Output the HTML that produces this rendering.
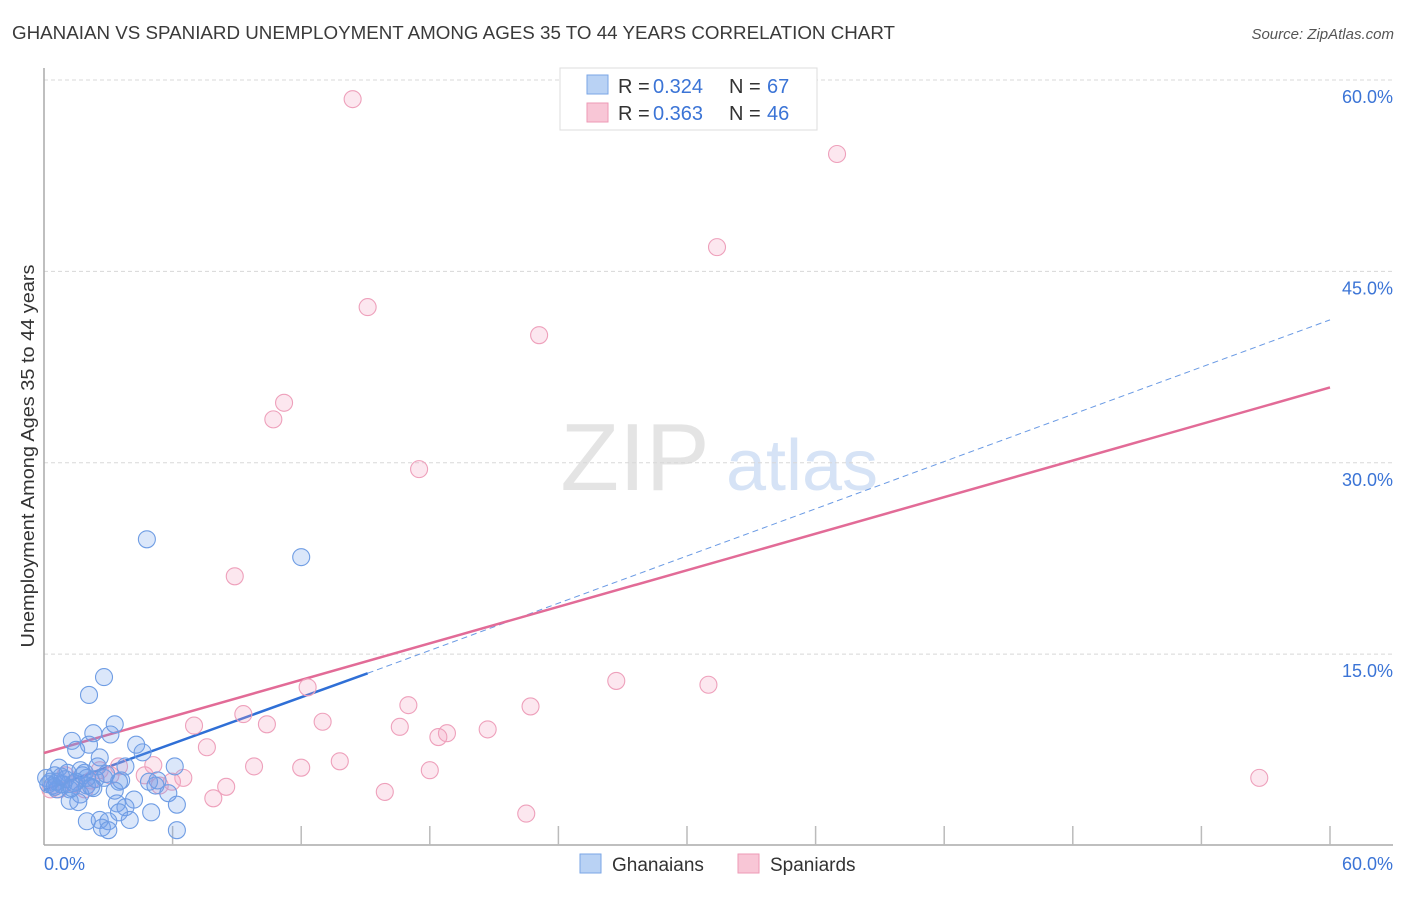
<!DOCTYPE html>
<html><head><meta charset="utf-8">
<style>
body{margin:0;background:#fff;font-family:"Liberation Sans",sans-serif;}
svg text{font-family:"Liberation Sans",sans-serif;}
</style></head>
<body>
<svg id="chart" width="1406" height="892" xmlns="http://www.w3.org/2000/svg">
<text x="12" y="39" font-size="18" fill="#3a3a3a" textLength="883" lengthAdjust="spacingAndGlyphs">GHANAIAN VS SPANIARD UNEMPLOYMENT AMONG AGES 35 TO 44 YEARS CORRELATION CHART</text>
<text x="1394" y="39" font-size="15" fill="#555" font-style="italic" text-anchor="end">Source: ZipAtlas.com</text>
<g>
<text x="635" y="490" font-size="96" fill="#e4e4e4" font-family="Liberation Serif" text-anchor="middle">ZIP</text>
<text x="802" y="490" font-size="72" fill="#d6e3f6" text-anchor="middle">atlas</text>
</g>
<g id="grid"></g>
<g id="axes"></g>
<g id="lines"></g>
<g id="pts"></g>
<text transform="translate(34,456) rotate(-90)" font-size="18" fill="#333" text-anchor="middle" textLength="383" lengthAdjust="spacingAndGlyphs">Unemployment Among Ages 35 to 44 years</text>
<g>
<rect x="560" y="68" width="257" height="62" fill="#fff" stroke="#ddd"/>
<rect x="587" y="75" width="21" height="19" fill="#b9d2f4" stroke="#7aa6e6"/>
<rect x="587" y="103" width="21" height="19" fill="#f8c6d6" stroke="#ee9ab6"/>
<text x="618" y="93" font-size="20" fill="#333">R =</text>
<text x="653" y="93" font-size="20" fill="#3b74d6">0.324</text>
<text x="729" y="93" font-size="20" fill="#333">N =</text>
<text x="767" y="93" font-size="20" fill="#3b74d6">67</text>
<text x="618" y="120" font-size="20" fill="#333">R =</text>
<text x="653" y="120" font-size="20" fill="#3b74d6">0.363</text>
<text x="729" y="120" font-size="20" fill="#333">N =</text>
<text x="767" y="120" font-size="20" fill="#3b74d6">46</text>
</g>
<g>
<rect x="580" y="854" width="21" height="19" fill="#b9d2f4" stroke="#7aa6e6"/>
<text x="612" y="871" font-size="19" fill="#333">Ghanaians</text>
<rect x="738" y="854" width="21" height="19" fill="#f8c6d6" stroke="#ee9ab6"/>
<text x="770" y="871" font-size="19" fill="#333">Spaniards</text>
</g>
</svg>
<script>
const yTicks=[15,30,45,60];
const yTickLabels=["15.0%","30.0%","45.0%","60.0%"];
const xTickVals=[6,12,18,24,30,36,42,48,54,60];
const blueX=[4.8,12.0,2.8,2.1,3.3,2.3,3.1,1.3,2.1,4.3,1.5,4.6,2.6,6.1,2.5,3.8,0.7,1.7,1.1,0.5,1.8,0.1,2.8,5.3,3.6,1.4,0.4,0.8,2.0,5.2,1.2,0.6,2.3,5.8,1.7,4.2,1.2,1.6,3.4,3.8,6.2,5.0,3.5,2.6,2.0,3.0,4.0,2.7,3.0,6.2,0.9,2.4,1.9,0.6,3.5,0.3,1.0,2.2,1.5,0.2,2.9,4.9,0.5,1.3,2.0,3.3,0.8];
const blueY=[24.0,22.6,13.2,11.8,9.5,8.8,8.7,8.2,7.9,7.9,7.5,7.3,6.9,6.2,6.2,6.2,6.1,5.9,5.7,5.5,5.5,5.3,5.3,5.1,5.1,4.9,4.7,4.8,4.7,4.7,4.4,4.4,4.5,4.1,4.0,3.6,3.5,3.4,3.3,3.0,3.2,2.6,2.6,2.0,1.9,1.9,2.0,1.4,1.2,1.2,4.8,5.2,5.7,5.0,5.0,5.0,5.2,4.6,5.0,4.8,5.6,5.0,4.6,4.5,5.3,4.3,5.4];
const pinkX=[14.4,37.0,31.4,15.1,23.1,11.2,10.7,17.5,8.9,26.7,31.0,12.3,17.0,22.7,13.0,7.0,10.4,9.3,16.6,20.7,18.8,18.4,7.6,13.8,9.8,12.0,18.0,56.7,5.1,6.5,5.97,8.5,7.9,15.9,22.5,2.6,3.5,2.2,1.4,0.7,0.3,3.1,4.7,5.4,1.9,1.0];
const pinkY=[58.5,54.2,46.9,42.2,40.0,34.7,33.4,29.5,21.1,12.9,12.6,12.4,11.0,10.9,9.7,9.4,9.5,10.3,9.3,9.1,8.8,8.5,7.7,6.6,6.2,6.1,5.9,5.3,6.3,5.3,5.0,4.6,3.7,4.2,2.5,5.9,6.2,5.1,4.8,4.4,4.4,5.5,5.5,4.7,4.4,5.5];
const blueTrend=[[0,4.35],[15.1,13.5],[60,41.2]];
const pinkTrend=[[0,7.25],[60,35.9]];
const NS="http://www.w3.org/2000/svg";
const X=v=>44+v*(1286/60);
const Y=v=>845.5-v*(765.5/60);
function mk(tag,attrs,parent){const e=document.createElementNS(NS,tag);for(const k in attrs)e.setAttribute(k,attrs[k]);parent.appendChild(e);return e;}
const grid=document.getElementById('grid'),axes=document.getElementById('axes'),lines=document.getElementById('lines'),pts=document.getElementById('pts');
yTicks.forEach((t,i)=>{
 const l=mk('line',{x1:44,x2:1393,y1:Y(t),y2:Y(t),stroke:'#d8d8d8','stroke-dasharray':'4,3'},grid);
 
 
 const tx=mk('text',{x:1393,y:Y(t)+23,'font-size':18,fill:'#3b74d6','text-anchor':'end'},grid);
 tx.textContent=yTickLabels[i];
 
 
});
const ya=mk('line',{x1:44,x2:44,y1:68,y2:845,stroke:'#aaa','stroke-width':1.5},axes);


const xa=mk('line',{x1:44,x2:1393,y1:845,y2:845,stroke:'#aaa','stroke-width':1.5},axes);


xTickVals.forEach(t=>{
 const l=mk('line',{x1:X(t),x2:X(t),y1:826,y2:845,stroke:'#bbb','stroke-width':1.5},axes);
 
 
});
const x0=mk('text',{x:44,y:870,'font-size':18,fill:'#3b74d6'},axes);x0.textContent='0.0%';


const x1=mk('text',{x:1393,y:870,'font-size':18,fill:'#3b74d6','text-anchor':'end'},axes);x1.textContent='60.0%';


function dot(x,y,fill,stroke,name){const c=mk('circle',{cx:X(x),cy:Y(y),r:8.5,fill:fill,stroke:stroke,'stroke-width':1.1},pts);
 
 }
pinkX.forEach((x,i)=>dot(x,pinkY[i],'rgba(244,160,190,0.25)','#eea0bb','spaniard-point'));
blueX.forEach((x,i)=>dot(x,blueY[i],'rgba(110,160,235,0.25)','#6f9de4','ghanaian-point'));
const bd=mk('line',{x1:X(blueTrend[1][0]),y1:Y(blueTrend[1][1]),x2:X(blueTrend[2][0]),y2:Y(blueTrend[2][1]),stroke:'#6a9ae4','stroke-width':1,'stroke-dasharray':'6,4'},lines);


const pl=mk('line',{x1:X(pinkTrend[0][0]),y1:Y(pinkTrend[0][1]),x2:X(pinkTrend[1][0]),y2:Y(pinkTrend[1][1]),stroke:'#e26b97','stroke-width':2.5},lines);


const bl=mk('line',{x1:X(blueTrend[0][0]),y1:Y(blueTrend[0][1]),x2:X(blueTrend[1][0]),y2:Y(blueTrend[1][1]),stroke:'#2f6fd6','stroke-width':2.5},lines);


</script>
</body></html>
